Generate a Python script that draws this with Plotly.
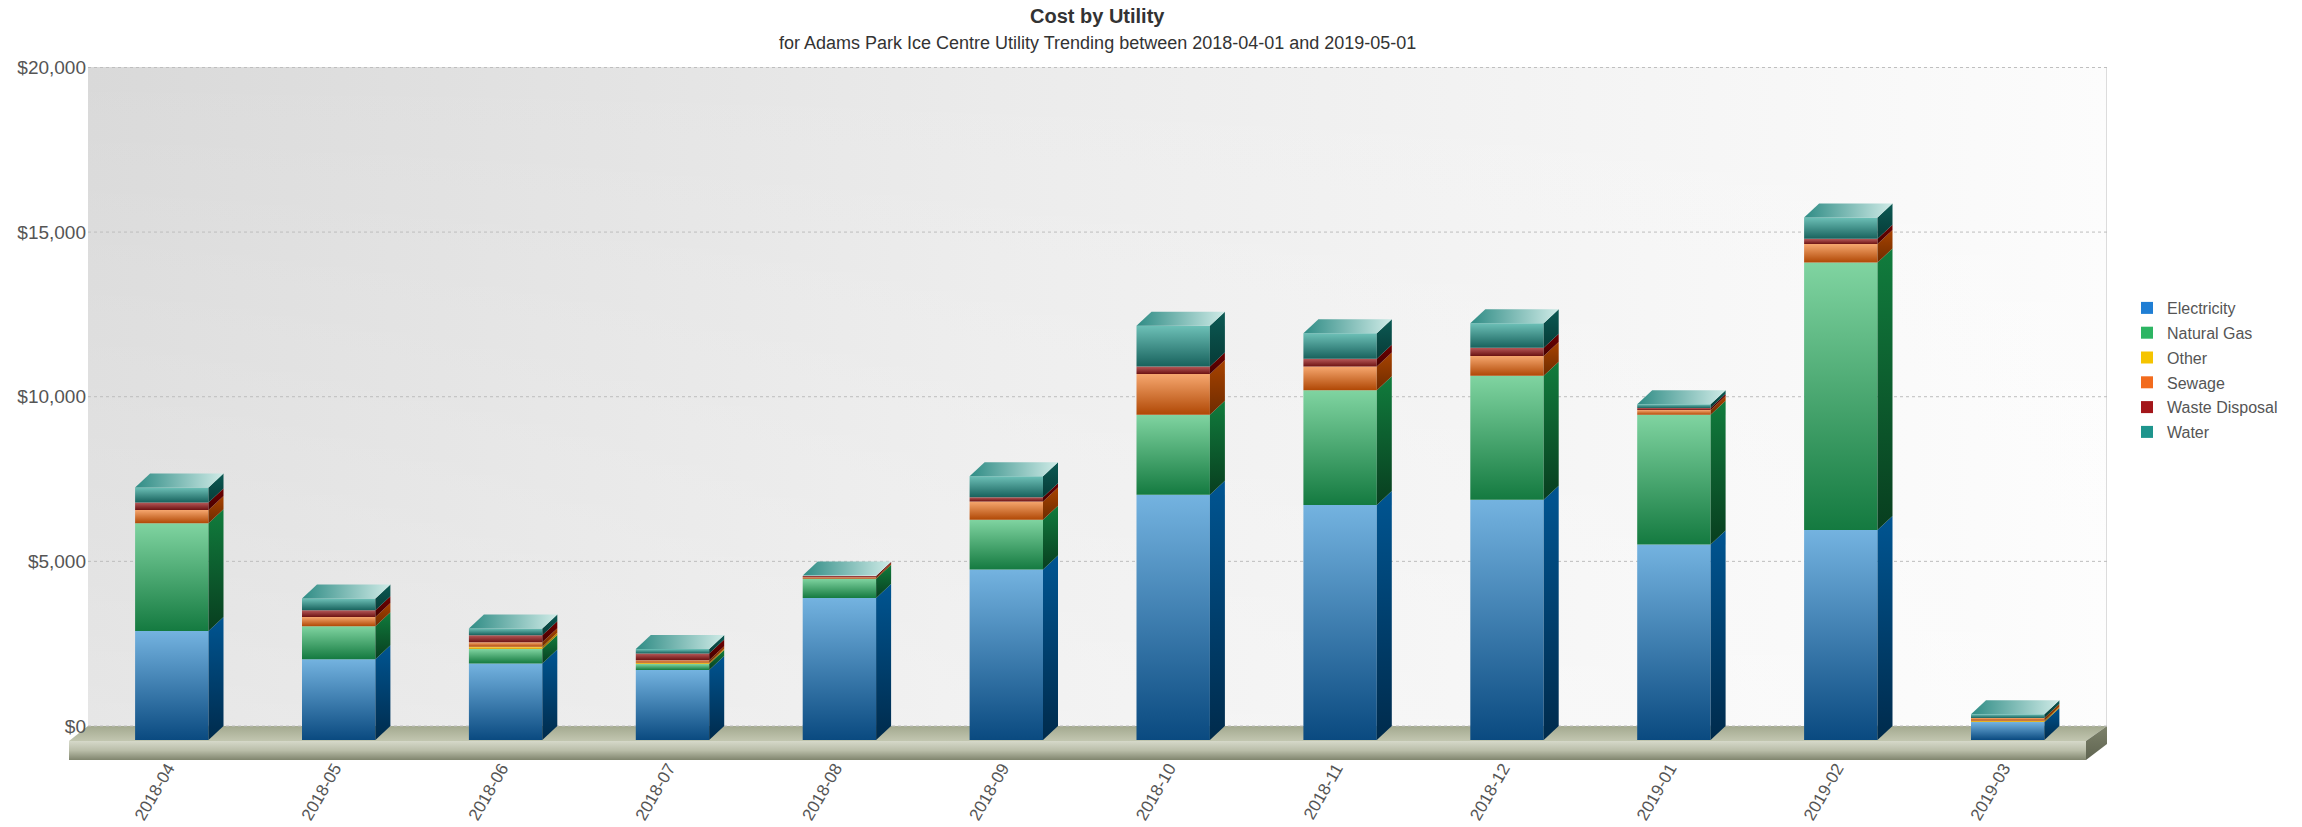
import plotly.graph_objects as go

# ---------------- data ----------------
months = ["2018-04", "2018-05", "2018-06", "2018-07", "2018-08", "2018-09",
          "2018-10", "2018-11", "2018-12", "2019-01", "2019-02", "2019-03"]
electricity = [3310, 2455, 2325, 2125, 4310, 5175, 7445, 7140, 7300, 5940, 6380, 545]
natural_gas = [3270, 1000, 435, 180, 590, 1515, 2435, 3485, 3760, 3935, 8120, 0]
other = [0, 0, 70, 40, 0, 0, 0, 0, 0, 0, 0, 40]
sewage = [405, 280, 135, 80, 45, 555, 1235, 715, 605, 145, 560, 80]
waste_disposal = [230, 205, 220, 205, 35, 130, 230, 240, 250, 60, 160, 0]
water = [455, 355, 205, 130, 15, 635, 1235, 770, 740, 120, 650, 120]
y_ticks = [0, 5000, 10000, 15000, 20000]
y_tick_labels = ["$0", "$5,000", "$10,000", "$15,000", "$20,000"]

series = [
    ("Electricity", electricity),
    ("Natural Gas", natural_gas),
    ("Other", other),
    ("Sewage", sewage),
    ("Waste Disposal", waste_disposal),
    ("Water", water),
]

# ---------------- styles ----------------
# legend colour, front top, front bottom, side top, side bottom
STYLE = {
    "Electricity":    ("#1f7ed4", "#74b3e0", "#0a4a80", "#005592", "#002b4c"),
    "Natural Gas":    ("#2db563", "#80d4a1", "#147a40", "#117c3d", "#083e1f"),
    "Other":          ("#f5c400", "#ffd95a", "#d49a00", "#c49000", "#8f6800"),
    "Sewage":         ("#f26b1d", "#f6a76f", "#b04805", "#a84300", "#6e2b00"),
    "Waste Disposal": ("#a3161a", "#b85a5a", "#6c1212", "#700000", "#450000"),
    "Water":          ("#1e958d", "#6dc0b7", "#18625d", "#0c5a54", "#063b37"),
}
FONT = "Liberation Sans, Arial, sans-serif"
W, H = 2302, 827
PL, PR, PT, PB = 69, 2107, 67, 760          # plot area in pixels
XC0_PX, XSTEP_PX = 171.8, 166.9              # first bar centre, bar spacing
BASE_PX, DPP = 740, 30.37                    # front zero line, dollars per px
BAR_W = 73.4 / XSTEP_PX
DEPTH_X_PX, DEPTH_Y_PX = 15, 14

n = len(months)
xr0 = -(XC0_PX - PL) / XSTEP_PX
xr1 = (n - 1) + (PR - XC0_PX - (n - 1) * XSTEP_PX) / XSTEP_PX
yr0 = -(PB - BASE_PX) * DPP
yr1 = (BASE_PX - PT) * DPP
DX = DEPTH_X_PX / XSTEP_PX
DY = DEPTH_Y_PX * DPP


def px2x(px):
    return xr0 + (px - PL) / XSTEP_PX


def py2y(py):
    return (BASE_PX - py) * DPP


def poly_px(pts):
    xs = [px2x(p[0]) for p in pts] + [px2x(pts[0][0])]
    ys = [py2y(p[1]) for p in pts] + [py2y(pts[0][1])]
    return xs, ys


def grad_poly(xs, ys, scale, kind="vertical"):
    return go.Scatter(x=xs, y=ys, mode="lines", fill="toself",
                      line=dict(width=0), hoverinfo="skip", showlegend=False,
                      fillgradient=dict(type=kind, colorscale=scale))


fig = go.Figure()

# ---- back wall ----
wx, wy = poly_px([(88, PT), (PR, PT), (PR, 726), (88, 726)])
fig.add_trace(grad_poly(wx, wy, [[0, "#d9d9d9"], [0.45, "#ebebeb"], [1, "#fcfcfc"]], "horizontal"))
fig.add_trace(grad_poly(wx, wy, [[0, "rgba(255,255,255,0.35)"], [1, "rgba(255,255,255,0)"]], "vertical"))
ex, ey = poly_px([(PR, PT), (PR, 726)])
fig.add_trace(go.Scatter(x=ex[:2], y=ey[:2], mode="lines", line=dict(color="#dcdcdc", width=2),
                         hoverinfo="skip", showlegend=False))

# ---- floor ----
fx, fy = poly_px([(88, 726), (PR, 726), (2086, 741), (69, 741)])
fig.add_trace(grad_poly(fx, fy, [[0, "#c2c6b0"], [1, "#a3a98f"]], "vertical"))
fx, fy = poly_px([(69, 741), (2086, 741), (2086, PB), (69, PB)])
fig.add_trace(grad_poly(fx, fy, [[0, "#80856e"], [0.5, "#b9bda8"], [1, "#d6d9ca"]], "vertical"))
fx, fy = poly_px([(2086, 741), (PR, 726), (PR, 744), (2086, PB)])
fig.add_trace(grad_poly(fx, fy, [[0, "#5f6450"], [1, "#7d826b"]], "vertical"))

# ---- back-wall grid lines ----
gx, gy = [], []
for v in y_ticks:
    gx += [px2x(88), px2x(PR), None]
    gy += [v + DY, v + DY, None]
fig.add_trace(go.Scatter(x=gx, y=gy, mode="lines", hoverinfo="skip", showlegend=False,
                         line=dict(color="#bdbdbd", width=1, dash="dot")))

# ---- stacked bars (front faces) ----
xs_idx = list(range(n))
for name, vals in series:
    fig.add_trace(go.Bar(x=xs_idx, y=vals, name=name, width=BAR_W, legendgroup=name,
                         marker=dict(color=STYLE[name][0], line=dict(width=0)),
                         customdata=months,
                         hovertemplate="%{customdata}<br>" + name + ": $%{y:,.0f}<extra></extra>"))

# ---- 3D shading: fronts, sides, tops ----
cum = [0] * n
tops = [0] * n
for name, vals in series:
    _, ft, fb, st, sb = STYLE[name]
    for i, v in enumerate(vals):
        if v <= 0:
            continue
        b, t = cum[i], cum[i] + v
        xl, xr = i - BAR_W / 2, i + BAR_W / 2
        fig.add_trace(grad_poly([xl, xr, xr, xl, xl], [b, b, t, t, b], [[0, fb], [1, ft]]))
        fig.add_trace(grad_poly([xr, xr + DX, xr + DX, xr, xr],
                                [b, b + DY, t + DY, t, b], [[0, sb], [1, st]]))
        cum[i] = t
        tops[i] = t
for i, T in enumerate(tops):
    xl, xr = i - BAR_W / 2, i + BAR_W / 2
    fig.add_trace(grad_poly([xl, xr, xr + DX, xl + DX, xl], [T, T, T + DY, T + DY, T],
                            [[0, "#2f8c85"], [1, "#cfebe7"]], "horizontal"))

# ---- titles ----
fig.add_annotation(text="<b>Cost by Utility</b>", xref="paper", yref="paper",
                   x=(1097 - PL) / (PR - PL), y=(PB - 16) / (PB - PT),
                   xanchor="center", yanchor="middle", showarrow=False,
                   font=dict(family=FONT, size=20, color="#333333"))
fig.add_annotation(text="for Adams Park Ice Centre Utility Trending between 2018-04-01 and 2019-05-01",
                   xref="paper", yref="paper",
                   x=(1097 - PL) / (PR - PL), y=(PB - 43) / (PB - PT),
                   xanchor="center", yanchor="middle", showarrow=False,
                   font=dict(family=FONT, size=18, color="#333333"))

fig.update_layout(
    width=W, height=H,
    margin=dict(l=PL, r=W - PR, t=PT, b=H - PB, pad=0, autoexpand=False),
    paper_bgcolor="white", plot_bgcolor="white",
    barmode="stack", bargap=0,
    font=dict(family=FONT, color="#555555"),
    showlegend=True,
    legend=dict(x=(2127 - PL) / (PR - PL), y=(PB - 291) / (PB - PT),
                xanchor="left", yanchor="top", traceorder="grouped",
                tracegroupgap=1, itemwidth=30,
                font=dict(family=FONT, size=16, color="#555555"),
                bgcolor="rgba(0,0,0,0)"),
    xaxis=dict(range=[xr0, xr1], tickmode="array", tickvals=xs_idx, ticktext=months,
               tickangle=-60, showgrid=False, zeroline=False, showline=False, automargin=False,
               ticks="", ticklabelstandoff=-6, ticklabelshift=-4,
               tickfont=dict(family=FONT, size=17, color="#555555")),
    yaxis=dict(range=[yr0, yr1], tickmode="array",
               tickvals=[v + DY for v in y_ticks], ticktext=y_tick_labels,
               showgrid=False, zeroline=False, showline=False, ticks="", automargin=False,
               ticklabelstandoff=-18,
               tickfont=dict(family=FONT, size=19, color="#555555")),
)

fig.write_html("out.html")
